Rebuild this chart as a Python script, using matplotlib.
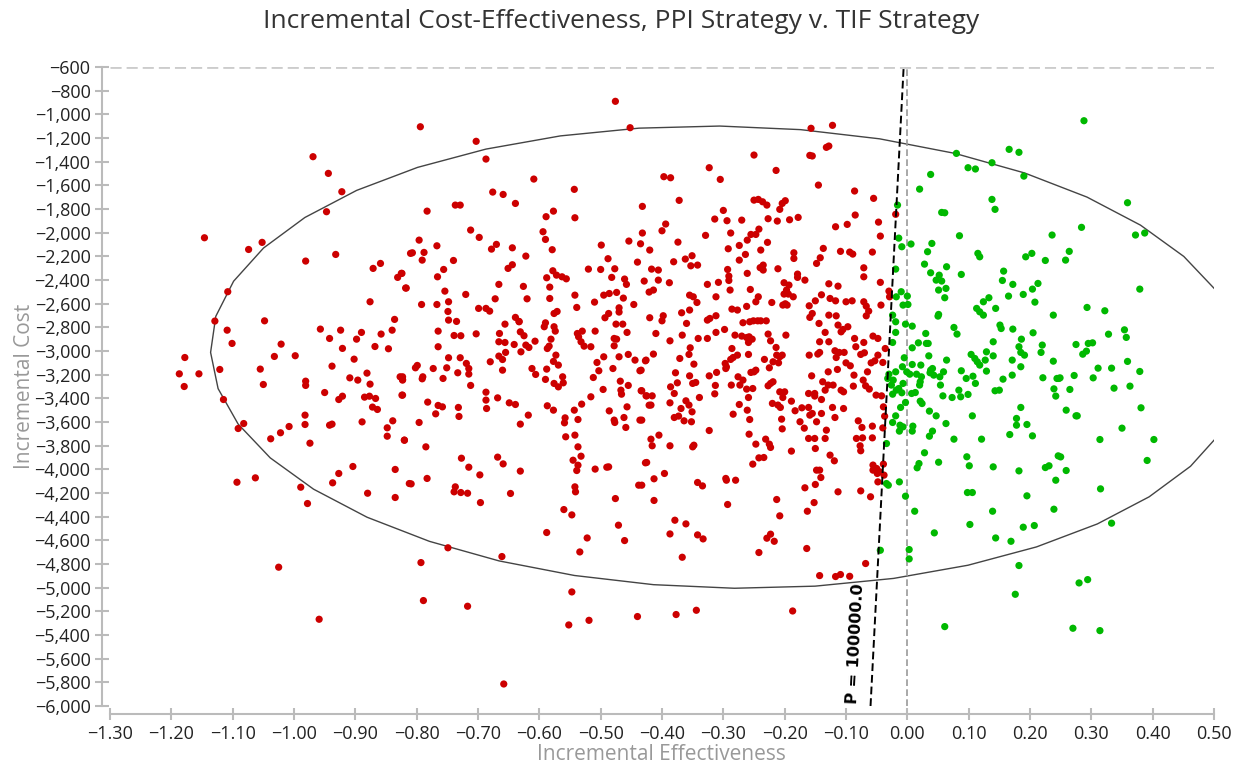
import numpy as np
import matplotlib
matplotlib.use("Agg")
import matplotlib.pyplot as plt
from matplotlib.ticker import FuncFormatter

plt.rcParams['font.family'] = ['Open Sans', 'DejaVu Sans']

# (incremental effectiveness, incremental cost)
red_pts = [
    (-0.969, -1358), (-0.944, -1499), (-0.922, -1654), (-0.947, -1823), (-1.146, -2043), (-1.074, -2142),
    (-1.052, -2082), (-0.981, -2240), (-0.932, -2184), (-0.871, -2302), (-0.859, -2260), (-0.831, -2378),
    (-0.824, -2344), (-0.818, -2468), (-0.810, -2175), (-1.108, -2499), (-0.876, -2584), (-1.129, -2747),
    (-1.109, -2824), (-1.048, -2745), (-0.836, -2733), (-0.957, -2815), (-0.924, -2824), (-0.890, -2843),
    (-0.840, -2824), (-0.858, -2857), (-0.942, -2894), (-0.898, -2900), (-1.101, -2936), (-1.021, -2942),
    (-0.921, -2978), (-0.868, -2962), (-0.846, -2981), (-1.178, -3055), (-1.032, -3046), (-0.998, -3040),
    (-0.902, -3069), (-1.187, -3193), (-1.155, -3193), (-1.121, -3156), (-1.055, -3153), (-0.938, -3128),
    (-1.179, -3300), (-1.050, -3283), (-0.981, -3255), (-0.981, -3291), (-0.909, -3227), (-0.896, -3246),
    (-0.881, -3187), (-0.876, -3280), (-0.827, -3218), (-0.823, -3241), (-0.950, -3351), (-0.927, -3410),
    (-0.921, -3382), (-0.885, -3390), (-0.877, -3382), (-0.867, -3401), (-0.872, -3474), (-0.864, -3494),
    (-0.824, -3373), (-1.115, -3410), (-1.082, -3613), (-1.091, -3655), (-0.982, -3542), (-0.982, -3621),
    (-1.008, -3638), (-1.022, -3691), (-1.038, -3742), (-0.974, -3779), (-0.942, -3627), (-0.938, -3618),
    (-0.889, -3599), (-0.839, -3590), (-0.848, -3649), (-0.848, -3720), (-0.820, -3754), (-0.904, -3976),
    (-0.927, -4035), (-0.937, -4114), (-0.835, -4001), (-1.093, -4109), (-1.063, -4072), (-0.989, -4151),
    (-0.880, -4202), (-0.835, -4238), (-0.812, -4120), (-0.978, -4289), (-1.025, -4827), (-0.959, -5267),
    (-0.794, -1105), (-0.476, -890), (-0.452, -1113), (-0.703, -1228),
    (-0.157, -1118), (-0.122, -1093), (-0.132, -1279), (-0.128, -1268), (-0.159, -1347), (-0.155, -1352),
    (-0.145, -1598), (-0.086, -1648), (-0.055, -1710), (-0.085, -1851), (-0.117, -1950), (-0.098, -1930),
    (-0.047, -1911), (-0.044, -2029), (-0.019, -1845), (-0.137, -2133), (-0.142, -2212), (-0.148, -2260),
    (-0.109, -2158), (-0.094, -2164), (-0.089, -2181), (-0.057, -2164), (-0.071, -2297), (-0.071, -2373),
    (-0.167, -2401), (-0.044, -2420), (-0.128, -2432), (-0.113, -2452), (-0.030, -2494), (-0.029, -2542),
    (-0.140, -2525), (-0.126, -2556), (-0.117, -2576), (-0.100, -2584), (-0.090, -2576), (-0.150, -2576),
    (-0.160, -2618), (-0.071, -2584), (-0.067, -2621), (-0.063, -2663), (-0.067, -2703), (-0.043, -2612),
    (-0.155, -2683), (-0.159, -2716), (-0.128, -2697), (-0.116, -2703), (-0.144, -2767),
    (-0.164, -4669), (-0.068, -4796), (-0.143, -4898), (-0.117, -4906), (-0.109, -4889), (-0.094, -4904),
    (-0.588, -4534), (-0.547, -4385), (-0.560, -4340), (-0.522, -4580), (-0.534, -4698), (-0.471, -4472),
    (-0.461, -4602), (-0.476, -4247), (-0.387, -4546), (-0.379, -4430), (-0.361, -4461), (-0.342, -4554),
    (-0.333, -4588), (-0.367, -4743), (-0.242, -4703), (-0.229, -4582), (-0.223, -4548), (-0.217, -4608),
    (-0.208, -4393), (-0.213, -4255), (-0.163, -4354), (-0.152, -4281), (-0.293, -4297), (-0.413, -4263),
    (-0.696, -4281), (-0.749, -4663), (-0.661, -4737), (-0.793, -4788), (-0.789, -5109), (-0.717, -5157),
    (-0.547, -5036), (-0.552, -5315), (-0.519, -5276), (-0.440, -5244), (-0.377, -5227), (-0.344, -5191),
    (-0.187, -5197), (-0.658, -5814),
    (-0.687, -1378), (-0.609, -1547), (-0.543, -1634), (-0.676, -1657), (-0.659, -1677), (-0.639, -1753),
    (-0.737, -1767), (-0.729, -1767), (-0.783, -1818), (-0.589, -1865), (-0.577, -1818), (-0.542, -1874),
    (-0.432, -1778), (-0.432, -2003), (-0.435, -2094), (-0.712, -1978), (-0.698, -2040), (-0.594, -1992),
    (-0.590, -2057), (-0.796, -2063), (-0.807, -2170), (-0.788, -2167), (-0.791, -2232), (-0.767, -2111),
    (-0.678, -2139), (-0.670, -2099), (-0.644, -2128), (-0.579, -2144), (-0.622, -2198), (-0.740, -2235),
    (-0.499, -2105), (-0.454, -2071), (-0.440, -2249), (-0.488, -2220), (-0.420, -2147), (-0.825, -2344),
    (-0.817, -2468), (-0.756, -2311), (-0.766, -2373), (-0.651, -2302), (-0.644, -2271), (-0.520, -2308),
    (-0.500, -2311), (-0.477, -2305), (-0.578, -2322), (-0.572, -2359), (-0.563, -2373), (-0.556, -2390),
    (-0.588, -2381), (-0.482, -2378), (-0.461, -2392), (-0.458, -2437), (-0.429, -2409), (-0.666, -2437),
    (-0.626, -2454), (-0.583, -2460), (-0.754, -2494), (-0.720, -2522), (-0.620, -2559), (-0.672, -2559),
    (-0.583, -2556), (-0.542, -2528), (-0.495, -2528), (-0.486, -2514), (-0.474, -2505), (-0.463, -2553),
    (-0.421, -2502), (-0.792, -2607), (-0.767, -2607), (-0.748, -2584), (-0.749, -2666), (-0.748, -2739),
    (-0.735, -2750), (-0.699, -2640), (-0.687, -2640), (-0.681, -2663), (-0.510, -2587), (-0.539, -2632),
    (-0.470, -2635), (-0.470, -2671), (-0.487, -2683), (-0.493, -2719), (-0.446, -2607), (-0.576, -2683),
    (-0.571, -2666), (-0.639, -2716), (-0.633, -2750), (-0.420, -2719),
    (-0.250, -1344), (-0.323, -1451), (-0.214, -1474), (-0.397, -1527), (-0.386, -1536), (-0.305, -1550),
    (-0.372, -1727), (-0.250, -1725), (-0.243, -1719), (-0.236, -1739), (-0.229, -1767), (-0.208, -1803),
    (-0.204, -1753), (-0.199, -1730), (-0.300, -1812), (-0.314, -1885), (-0.294, -1899), (-0.270, -1894),
    (-0.227, -1882), (-0.212, -1902), (-0.192, -1891), (-0.178, -1871), (-0.394, -1927), (-0.400, -1984),
    (-0.329, -2023), (-0.288, -2003), (-0.255, -2015), (-0.247, -2015), (-0.242, -1970), (-0.261, -2063),
    (-0.228, -2082), (-0.374, -2080), (-0.274, -2108), (-0.292, -2136), (-0.239, -2147), (-0.264, -2184),
    (-0.274, -2232), (-0.362, -2223), (-0.351, -2195), (-0.353, -2280), (-0.342, -2274), (-0.381, -2246),
    (-0.293, -2311), (-0.291, -2367), (-0.291, -2404), (-0.240, -2296), (-0.235, -2274), (-0.235, -2316),
    (-0.211, -2305), (-0.185, -2170), (-0.185, -2218), (-0.261, -2344), (-0.417, -2308), (-0.406, -2316),
    (-0.406, -2401), (-0.388, -2423), (-0.326, -2437), (-0.308, -2420), (-0.289, -2485), (-0.256, -2480),
    (-0.243, -2542), (-0.247, -2584), (-0.349, -2542), (-0.355, -2528), (-0.343, -2590), (-0.312, -2542),
    (-0.221, -2590), (-0.201, -2423), (-0.193, -2443), (-0.197, -2485), (-0.201, -2519), (-0.194, -2519),
    (-0.186, -2542), (-0.199, -2601), (-0.196, -2612), (-0.203, -2612), (-0.179, -2350), (-0.179, -2378),
    (-0.414, -2485), (-0.368, -2677), (-0.355, -2654), (-0.398, -2702), (-0.400, -2745), (-0.326, -2739),
    (-0.322, -2725), (-0.312, -2702), (-0.360, -2767), (-0.286, -2646), (-0.277, -2654), (-0.262, -2623),
    (-0.257, -2753), (-0.251, -2745), (-0.244, -2745), (-0.239, -2745), (-0.230, -2745), (-0.268, -2761),
    (-0.656, -2773), (-0.633, -2753), (-0.590, -2762), (-0.592, -2795), (-0.576, -2795), (-0.574, -2832),
    (-0.538, -2852), (-0.530, -2832), (-0.536, -2880), (-0.509, -2832), (-0.475, -2773), (-0.464, -2773),
    (-0.457, -2843), (-0.765, -2832), (-0.739, -2869), (-0.728, -2871), (-0.703, -2855), (-0.665, -2852),
    (-0.631, -2838), (-0.625, -2871), (-0.581, -2900), (-0.666, -2922), (-0.656, -2928), (-0.641, -2945),
    (-0.622, -2950), (-0.617, -2970), (-0.607, -2917), (-0.630, -3007), (-0.587, -2979), (-0.584, -2959),
    (-0.532, -2922), (-0.527, -2959), (-0.516, -2964), (-0.478, -2894), (-0.474, -2900), (-0.478, -2956),
    (-0.765, -2964), (-0.655, -3012), (-0.666, -3043), (-0.660, -3072), (-0.680, -3091), (-0.660, -3162),
    (-0.748, -3057), (-0.729, -3057), (-0.719, -3105), (-0.715, -3148), (-0.715, -3195), (-0.751, -3142),
    (-0.733, -3184), (-0.773, -3148), (-0.802, -3142), (-0.799, -3122), (-0.790, -3218), (-0.791, -3235),
    (-0.823, -3218), (-0.823, -3246), (-0.757, -3232), (-0.712, -3291), (-0.823, -3373), (-0.573, -3035),
    (-0.569, -3119), (-0.577, -3088), (-0.588, -3153), (-0.612, -3148), (-0.606, -3198), (-0.590, -3240),
    (-0.562, -3218), (-0.561, -3269), (-0.569, -3303), (-0.576, -3274), (-0.512, -3224), (-0.506, -3097),
    (-0.503, -3167), (-0.495, -3049), (-0.480, -3148), (-0.470, -3049), (-0.455, -3029), (-0.444, -3077),
    (-0.436, -3167), (-0.426, -3077), (-0.468, -3255), (-0.455, -3291), (-0.467, -3331), (-0.466, -3365),
    (-0.496, -3325), (-0.434, -3336), (-0.425, -3379), (-0.516, -3387), (-0.531, -3449), (-0.543, -3500),
    (-0.687, -3348), (-0.687, -3415), (-0.686, -3486), (-0.668, -3396), (-0.649, -3438), (-0.639, -3452),
    (-0.782, -3432), (-0.765, -3460), (-0.758, -3472), (-0.769, -3531), (-0.732, -3477), (-0.731, -3553),
    (-0.587, -3463), (-0.577, -3500), (-0.618, -3542), (-0.631, -3618), (-0.558, -3565), (-0.559, -3607),
    (-0.537, -3579), (-0.557, -3725), (-0.542, -3711), (-0.537, -3810), (-0.532, -3889), (-0.545, -3923),
    (-0.537, -3965), (-0.539, -4010), (-0.509, -3998), (-0.490, -3982), (-0.487, -3979), (-0.486, -3506),
    (-0.478, -3584), (-0.477, -3604), (-0.462, -3562), (-0.457, -3472), (-0.459, -3646), (-0.436, -3584),
    (-0.421, -3458), (-0.427, -3945), (-0.438, -4134), (-0.796, -3604), (-0.820, -3753), (-0.785, -3810),
    (-0.727, -3906), (-0.715, -3982), (-0.697, -4047), (-0.668, -3897), (-0.659, -3954), (-0.631, -4015),
    (-0.783, -4077), (-0.809, -4123), (-0.737, -4148), (-0.739, -4190), (-0.728, -4196), (-0.717, -4202),
    (-0.647, -4204), (-0.542, -4148), (-0.541, -4190),
    (-0.410, -2852), (-0.367, -2866), (-0.341, -2894), (-0.326, -2894), (-0.312, -2843), (-0.298, -2818),
    (-0.387, -2914), (-0.427, -3083), (-0.414, -3026), (-0.434, -3162), (-0.371, -3063), (-0.354, -2973),
    (-0.356, -3029), (-0.348, -3111), (-0.378, -3184), (-0.355, -3210), (-0.350, -3274), (-0.345, -3266),
    (-0.375, -3269), (-0.386, -3303), (-0.380, -3359), (-0.433, -3336), (-0.426, -3379), (-0.416, -3379),
    (-0.418, -3457), (-0.387, -3438), (-0.369, -3486), (-0.361, -3421), (-0.356, -3457), (-0.351, -3514),
    (-0.352, -3598), (-0.380, -3562), (-0.373, -3550), (-0.364, -3590), (-0.339, -3393), (-0.323, -3210),
    (-0.311, -3181), (-0.313, -3291), (-0.314, -3362), (-0.323, -3672), (-0.433, -3584), (-0.418, -3745),
    (-0.416, -3801), (-0.405, -3711), (-0.387, -3801), (-0.425, -3942), (-0.396, -4035), (-0.413, -4080),
    (-0.433, -4134), (-0.350, -3810), (-0.348, -3796), (-0.342, -4111), (-0.334, -4140), (-0.296, -4077),
    (-0.295, -4092), (-0.280, -4092), (-0.295, -3134), (-0.288, -3071), (-0.284, -3055), (-0.277, -3035),
    (-0.286, -2979), (-0.297, -3105), (-0.296, -3148), (-0.270, -2874), (-0.262, -2886), (-0.258, -2880),
    (-0.253, -2900), (-0.281, -2866), (-0.259, -2928), (-0.259, -3029), (-0.247, -3162), (-0.250, -3176),
    (-0.255, -3181), (-0.287, -3288), (-0.276, -3218), (-0.273, -3288), (-0.268, -3246), (-0.262, -3322),
    (-0.252, -3317), (-0.259, -3393), (-0.274, -3452), (-0.261, -3500), (-0.284, -3534), (-0.257, -3579),
    (-0.258, -3703), (-0.247, -3787), (-0.252, -3956), (-0.242, -3903), (-0.234, -3900), (-0.231, -3745),
    (-0.225, -3787), (-0.223, -3815), (-0.189, -3846), (-0.233, -3071), (-0.227, -2857), (-0.223, -2914),
    (-0.214, -2970), (-0.198, -2866), (-0.213, -3035), (-0.208, -3049), (-0.204, -3035), (-0.210, -3100),
    (-0.219, -3091), (-0.225, -3142), (-0.227, -3294), (-0.223, -3274), (-0.219, -3260), (-0.208, -3345),
    (-0.200, -3345), (-0.203, -3393), (-0.220, -3443), (-0.211, -3457), (-0.207, -3477), (-0.189, -3424),
    (-0.205, -3576), (-0.204, -3658), (-0.183, -3505), (-0.172, -3480), (-0.161, -3477), (-0.175, -3598),
    (-0.168, -3652), (-0.159, -3542), (-0.155, -3528), (-0.161, -3739), (-0.151, -3739), (-0.148, -3598),
    (-0.140, -3528), (-0.150, -3824), (-0.126, -3880), (-0.119, -3928), (-0.148, -4007), (-0.143, -4007),
    (-0.141, -4069), (-0.150, -4128), (-0.167, -4156), (-0.113, -4190), (-0.076, -4182), (-0.060, -4232),
    (-0.134, -3739), (-0.132, -3669), (-0.118, -3562), (-0.122, -3477), (-0.104, -3486), (-0.140, -3410),
    (-0.151, -3381), (-0.151, -3359), (-0.161, -3359), (-0.134, -3331), (-0.129, -3288), (-0.121, -3288),
    (-0.156, -3210), (-0.160, -3035), (-0.146, -3026), (-0.143, -3012), (-0.143, -2922), (-0.128, -2922),
    (-0.134, -2843), (-0.113, -2781), (-0.105, -2818), (-0.108, -2838), (-0.097, -2795), (-0.118, -2998),
    (-0.111, -3012), (-0.103, -3012), (-0.116, -3055), (-0.114, -3156), (-0.108, -3331), (-0.104, -3345),
    (-0.129, -3176), (-0.138, -3260), (-0.100, -3100), (-0.093, -3125), (-0.087, -3204), (-0.088, -3297),
    (-0.086, -2894), (-0.071, -2928), (-0.084, -2964), (-0.076, -3029), (-0.070, -3015), (-0.059, -3100),
    (-0.053, -3083), (-0.065, -3176), (-0.072, -3246), (-0.068, -3294), (-0.062, -3322), (-0.048, -3035),
    (-0.040, -3097), (-0.036, -2979), (-0.056, -2874), (-0.048, -2894), (-0.051, -3373), (-0.042, -3379),
    (-0.039, -3472), (-0.037, -3551), (-0.080, -3590), (-0.074, -3646), (-0.057, -3635), (-0.057, -3734),
    (-0.083, -3739), (-0.073, -3734), (-0.077, -3801), (-0.076, -3843), (-0.056, -3964), (-0.050, -3993),
    (-0.049, -4035), (-0.045, -4021), (-0.056, -4007), (-0.048, -4106), (-0.039, -3956), (-0.038, -4049),
    (-0.040, -3650),
]

green_pts = [
    (0.288, -1054), (0.166, -1296), (0.182, -1321), (0.080, -1330), (0.138, -1409), (0.099, -1451),
    (0.111, -1462), (0.190, -1522), (0.359, -1747), (0.284, -1955), (0.372, -2020), (0.387, -2003),
    (0.264, -2158), (0.258, -2232), (0.379, -2477), (0.293, -2632), (0.322, -2660), (0.328, -2858),
    (0.354, -2821), (0.357, -2885), (0.275, -2945), (0.295, -2936), (0.302, -2931), (0.286, -3027),
    (0.292, -3001), (0.359, -3088), (0.379, -3173), (0.311, -3145), (0.333, -3145), (0.272, -3207),
    (0.303, -3227), (0.249, -3227),
    (0.337, -3314), (0.363, -3297), (0.265, -3325), (0.259, -3500), (0.275, -3548), (0.277, -3548),
    (0.381, -3480), (0.350, -3652), (0.314, -3748), (0.402, -3748), (0.250, -3895), (0.259, -4010),
    (0.391, -3925), (0.315, -4165), (-0.003, -4227), (0.012, -4354), (0.044, -4537), (0.098, -4196),
    (0.106, -4196), (0.139, -4354), (0.102, -4466), (0.144, -4580), (0.169, -4608), (0.189, -4489),
    (0.207, -4475), (0.195, -4224), (0.239, -4337), (0.333, -4455), (-0.044, -4684), (0.003, -4678),
    (0.003, -4757), (0.182, -4813), (0.176, -5056), (0.280, -4960), (0.294, -4932), (0.061, -5329),
    (0.270, -5343), (0.314, -5363),
    (0.038, -1508), (0.020, -1632), (0.138, -1719), (0.143, -1803), (0.056, -1829), (0.061, -1832),
    (-0.016, -1767), (-0.014, -2046), (-0.009, -2119), (0.006, -2096), (0.040, -2091), (0.033, -2161),
    (0.085, -2026), (0.236, -2020), (0.115, -2175), (0.118, -2204), (0.203, -2175), (0.193, -2204),
    (0.225, -2235), (-0.019, -2308), (0.028, -2266), (0.064, -2288), (0.038, -2339), (0.052, -2359),
    (0.047, -2401), (0.056, -2409), (0.051, -2485), (0.063, -2471), (0.061, -2550), (0.088, -2353),
    (0.157, -2325), (0.155, -2404), (0.172, -2437), (0.213, -2429), (0.204, -2477), (0.189, -2522),
    (0.165, -2536), (0.208, -2587), (0.133, -2550), (0.124, -2584), (0.144, -2640), (0.113, -2640),
    (0.118, -2669), (0.124, -2697), (0.051, -2691), (0.050, -2705), (-0.010, -2499), (0.000, -2536),
    (-0.007, -2612), (0.001, -2607), (-0.018, -2542), (-0.024, -2697), (-0.019, -2753), (-0.003, -2773),
    (0.008, -2790), (-0.019, -2843), (-0.024, -2928), (0.030, -2852), (0.031, -2936), (0.034, -2936),
    (0.018, -2931), (0.008, -2973), (0.076, -2801), (0.081, -2857), (0.151, -2781), (0.153, -2810),
    (0.172, -2815), (0.140, -2922), (0.205, -2846), (0.186, -2900), (0.182, -2964), (0.185, -3012),
    (0.191, -3035), (0.220, -2950), (0.218, -3012), (0.238, -3086), (0.238, -2697), (0.244, -3232),
    (0.104, -3029), (0.110, -3063), (0.114, -3091), (0.118, -3119), (0.127, -3077), (0.129, -3007),
    (0.140, -3041), (0.129, -3170), (0.064, -3077), (0.035, -3041), (0.038, -3162), (0.041, -3148),
    (0.037, -3184), (0.043, -3204), (0.022, -3119), (0.021, -3260), (0.020, -3288), (0.008, -3114),
    (0.004, -3196), (0.015, -3196), (0.023, -3218), (-0.005, -3057), (-0.008, -3133), (-0.001, -3176),
    (-0.007, -3274), (-0.019, -3176), (-0.023, -3246), (-0.030, -3196), (-0.032, -3232), (-0.026, -3288),
    (-0.018, -3331), (-0.014, -3317), (-0.009, -3353), (-0.024, -3365), (0.007, -3359), (0.013, -3351),
    (0.053, -3218), (0.054, -3288), (0.059, -3176), (0.088, -3167), (0.096, -3232), (0.111, -3274),
    (0.107, -3213), (0.084, -3331), (0.087, -3387), (0.073, -3393), (0.058, -3379), (0.099, -3367),
    (0.143, -3336), (0.150, -3331), (0.156, -3238), (0.171, -3204), (0.171, -3077), (0.185, -3133),
    (0.221, -3226), (0.239, -3320), (0.242, -3381), (0.247, -3232), (0.021, -3424), (0.024, -3444),
    (0.036, -3508), (-0.003, -3435), (-0.011, -3477), (-0.019, -3548), (-0.024, -3604), (-0.012, -3627),
    (-0.013, -3677), (-0.007, -3641), (0.009, -3635), (0.008, -3677), (0.047, -3548), (0.063, -3613),
    (0.041, -3677), (0.036, -3720), (0.106, -3548), (0.178, -3570), (0.178, -3627), (0.185, -3477),
    (0.195, -3621), (0.204, -3717), (0.167, -3706), (0.121, -3745), (0.076, -3745), (-0.034, -3782),
    (0.028, -3860), (0.051, -3940), (0.019, -3951), (0.016, -3987), (0.097, -3894), (0.101, -3970),
    (0.140, -3979), (0.182, -4013), (0.225, -3985), (0.231, -3970), (0.246, -3886), (0.242, -4092),
    (-0.034, -4120), (-0.031, -4134), (-0.013, -4106),
]

# confidence ellipse (centre and conjugate half-axes) and WTP line
ell_center = (-0.294, -3052)
ell_u = (0.842, -40)
ell_v = (-0.012, 1953)
wtp = 100000.0

x_ticks = np.arange(-1.30, 0.501, 0.10)
y_ticks = np.arange(-6000, -599, 200)

fig = plt.figure(figsize=(12.41, 7.68), dpi=100)
ax = fig.add_axes([110 / 1241, 62 / 768, 1104 / 1241, 639 / 768])

t = np.linspace(0, 2 * np.pi, 41)
ex = ell_center[0] + ell_u[0] * np.cos(t) + ell_v[0] * np.sin(t)
ey = ell_center[1] + ell_u[1] * np.cos(t) + ell_v[1] * np.sin(t)
ax.plot(ex, ey, color='#444444', lw=1.0, zorder=1)

red = np.array(red_pts)
green = np.array(green_pts)
ax.scatter(red[:, 0], red[:, 1], s=27, color='#cc0000', edgecolors='none', zorder=3)
ax.scatter(green[:, 0], green[:, 1], s=27, color='#00b800', edgecolors='none', zorder=3)

ax.axhline(-600, color='#cccccc', lw=2, linestyle=(0, (4, 1.8)), zorder=2)
ax.axvline(0, color='#999999', lw=1.2, linestyle=(0, (4, 2)), zorder=2)

wx = np.array([-6000, -600]) / wtp
ax.plot(wx, wx * wtp, color='black', lw=1.4, linestyle=(0, (4, 2)), zorder=4)
ax.text(-0.084, -5470, 'P = 100000.0', rotation=87, ha='center', va='center',
        fontsize=11.5, fontweight='bold', color='black', family=['DejaVu Sans'])

ax.set_xlim(-1.30, 0.50)
ax.set_ylim(-6000, -600)
ax.set_xticks(x_ticks)
ax.set_yticks(y_ticks)
ax.xaxis.set_major_formatter(FuncFormatter(lambda v, p: f"{v:.2f}".replace('-', '\u2212') if abs(v) > 1e-9 else "0.00"))
ax.yaxis.set_major_formatter(FuncFormatter(lambda v, p: f"{v:,.0f}".replace('-', '\u2212')))

for s in ['top', 'right']:
    ax.spines[s].set_visible(False)
for s in ['left', 'bottom']:
    ax.spines[s].set_color('#bbbbbb')
    ax.spines[s].set_linewidth(1.5)
    ax.spines[s].set_position(('outward', 6))
ax.tick_params(axis='y', direction='inout', length=10, width=1.5, color='#bbbbbb',
               labelsize=13, labelcolor='#222222', pad=3)
ax.tick_params(axis='x', direction='inout', length=8, width=1.5, color='#bbbbbb',
               labelsize=13, labelcolor='#222222', pad=4)

fig.text(621 / 1241, 1 - 22 / 768, 'Incremental Cost-Effectiveness, PPI Strategy v. TIF Strategy',
         ha='center', va='center', fontsize=19, color='#333333')
fig.text(661 / 1241, 1 - 755 / 768, 'Incremental Effectiveness', ha='center', va='center',
         fontsize=15, color='#999999')
fig.text(25 / 1241, 1 - 386 / 768, 'Incremental Cost', ha='center', va='center',
         rotation=90, fontsize=15, color='#999999')

fig.savefig('out.png', dpi=100)
